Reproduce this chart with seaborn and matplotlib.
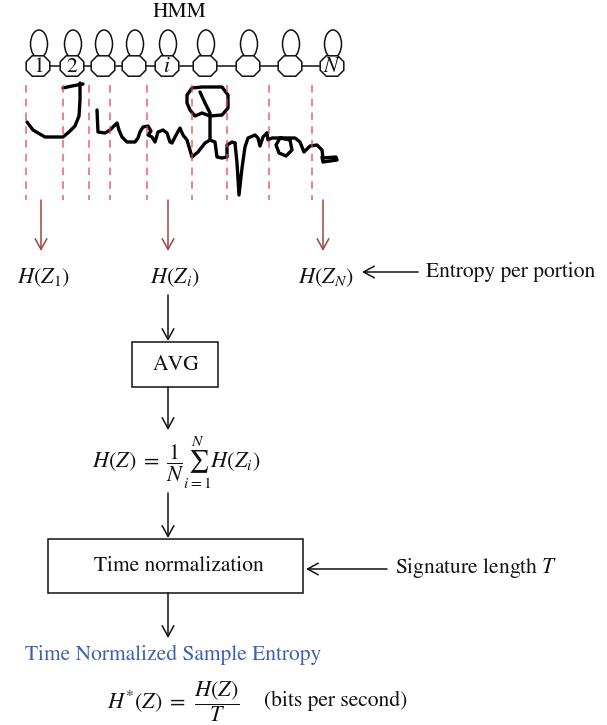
import numpy as np
import pandas as pd
import matplotlib
matplotlib.use("Agg")
import matplotlib.pyplot as plt
from matplotlib.patches import Polygon, Ellipse, Rectangle
import seaborn as sns

# ---------------- data ----------------
state_labels = ["$1$", "$2$", "", "", "$i$", "", "", "", "$N$"]
state_x = [38, 72, 103, 134, 167, 205, 248, 290, 332]
segment_x = [26, 63, 89, 110, 147, 192, 227, 269, 312]
entropy_labels = [r"$H(Z_1)$", r"$H(Z_i)$", r"$H(Z_N)$"]
entropy_x = [44, 175, 326]
arrow_x = [41, 168, 323]

# signature strokes (pen trajectory, pixel coordinates)
sig_strokes = [
    [(63, 88), (72, 86), (83, 84)],
    [(80, 83), (80, 100), (79, 116), (75, 126), (69, 132), (63, 137), (45, 137),
     (38, 133), (33, 130), (27, 122)],
    [(97, 110), (98, 132), (105, 133), (110, 130), (115, 125), (117, 123), (119, 130),
     (122, 137), (127, 142), (135, 142), (138, 138), (140, 132), (143, 127), (148, 126),
     (151, 131), (148, 135), (152, 137), (155, 142), (158, 132), (163, 130), (167, 133),
     (170, 142), (172, 143), (175, 137), (180, 128), (183, 135), (187, 140), (192, 157),
     (198, 152), (205, 143), (210, 140), (215, 142), (217, 157), (222, 158), (227, 157),
     (227, 145), (232, 142), (235, 143)],
    [(200, 92), (205, 103), (210, 113), (210, 140)],
    [(210, 116), (202, 113), (195, 116), (190, 110), (187, 103), (187, 95), (192, 88),
     (202, 87), (222, 87), (228, 95), (228, 108), (222, 115), (210, 116)],
    [(235, 143), (237, 163), (239, 195), (242, 168), (245, 147), (248, 138), (255, 135),
     (258, 138), (260, 146), (263, 137), (267, 133)],
    [(267, 133), (268, 140), (272, 138), (280, 138), (290, 140), (292, 150), (286, 156),
     (279, 153), (276, 145), (280, 138), (295, 138), (300, 142), (304, 152), (310, 146),
     (317, 145), (322, 150), (323, 158), (336, 157), (337, 160), (323, 162), (322, 157)],
]

# ---------------- style ----------------
sns.set_theme(style="white")
plt.rcParams["font.family"] = ["STIXGeneral", "DejaVu Serif"]
plt.rcParams["mathtext.fontset"] = "stix"

fig = plt.figure(figsize=(6.07, 7.25), dpi=100)
ax = fig.add_axes([0, 0, 1, 1])

FS = 15.5
FM = 16
BLACK = "#111111"
RED_DASH = "#E8474C"
RED_ARROW = "#A04545"
BLUE = "#3F60B2"

# ---------------- signature ----------------
for s in sig_strokes:
    df = pd.DataFrame(s, columns=["x", "y"])
    sns.lineplot(data=df, x="x", y="y", sort=False, estimator=None, ax=ax,
                 color="black", lw=2.4, legend=False, zorder=5,
                 solid_joinstyle="round", solid_capstyle="round")
ax.set_xlim(0, 607)
ax.set_ylim(725, 0)
ax.axis("off")

# ---------------- HMM ----------------
ax.text(180, 12, "HMM", ha="center", va="center", fontsize=FS, color=BLACK)
y_state = 66
ax.plot([state_x[0], state_x[-1]], [y_state, y_state], color=BLACK, lw=1.1, zorder=2)
a, b, c = 11.8, 10.2, 6.0
for x, lab in zip(state_x, state_labels):
    ax.add_patch(Ellipse((x + 1, 44), 17, 28, fill=False, ec=BLACK, lw=1.1, zorder=1))
    verts = [(x - a + c, y_state - b), (x + a - c, y_state - b), (x + a, y_state - b + c),
             (x + a, y_state + b - c), (x + a - c, y_state + b), (x - a + c, y_state + b),
             (x - a, y_state + b - c), (x - a, y_state - b + c)]
    ax.add_patch(Polygon(verts, closed=True, fc="white", ec=BLACK, lw=1.1, zorder=3))
    if lab:
        ax.text(x, y_state + 1, lab, ha="center", va="center", fontsize=FS, color=BLACK,
                zorder=4)

for x in segment_x:
    ax.plot([x, x], [85, 200], color=RED_DASH, lw=1.1, ls=(0, (5, 4)), alpha=0.85,
            zorder=6)

def arrow(x0, y0, x1, y1, color=BLACK, lw=1.1):
    ax.annotate("", xy=(x1, y1), xytext=(x0, y0),
                arrowprops=dict(arrowstyle="->,head_length=0.55,head_width=0.3",
                                color=color, lw=lw, shrinkA=0, shrinkB=0,
                                mutation_scale=14))

for x in arrow_x:
    arrow(x, 200, x, 251, color=RED_ARROW)

for x, lab in zip(entropy_x, entropy_labels):
    ax.text(x, 278, lab, ha="center", va="center", fontsize=FM, color=BLACK)

arrow(418, 272, 362, 272)
ax.text(426, 272, "Entropy per portion", ha="left", va="center", fontsize=FS, color=BLACK)

# ---------------- AVG ----------------
arrow(168, 295, 168, 341)
ax.add_patch(Rectangle((132, 342), 86, 45, fill=False, ec=BLACK, lw=1.1))
ax.text(176, 365, "AVG", ha="center", va="center", fontsize=FS, color=BLACK)
arrow(168, 387, 168, 430)

ax.text(92, 463, r"$H(Z)\;=\;\dfrac{1}{N}\sum_{i=1}^{N}H(Z_i)$", ha="left",
        va="center", fontsize=FM, color=BLACK)

# ---------------- time normalization ----------------
arrow(168, 493, 168, 538)
ax.add_patch(Rectangle((48, 539), 255, 54, fill=False, ec=BLACK, lw=1.1))
ax.text(179, 566, "Time normalization", ha="center", va="center", fontsize=FS,
        color=BLACK)
arrow(387, 569, 306, 569)
ax.text(395, 568, r"Signature length $T$", ha="left", va="center", fontsize=FS,
        color=BLACK)
arrow(168, 593, 168, 638)

ax.text(25, 655, "Time Normalized Sample Entropy", ha="left", va="center",
        fontsize=FS, color=BLUE)
ax.text(186, 701, r"$H^{*}(Z)\;=$", ha="right", va="center", fontsize=FM,
        color=BLACK)
ax.text(217, 702, r"$\dfrac{H(Z)}{T}$", ha="center", va="center", fontsize=FM,
        color=BLACK)
ax.text(264, 701, "(bits per second)", ha="left", va="center", fontsize=FS,
        color=BLACK)

fig.savefig("out.png", dpi=100)
